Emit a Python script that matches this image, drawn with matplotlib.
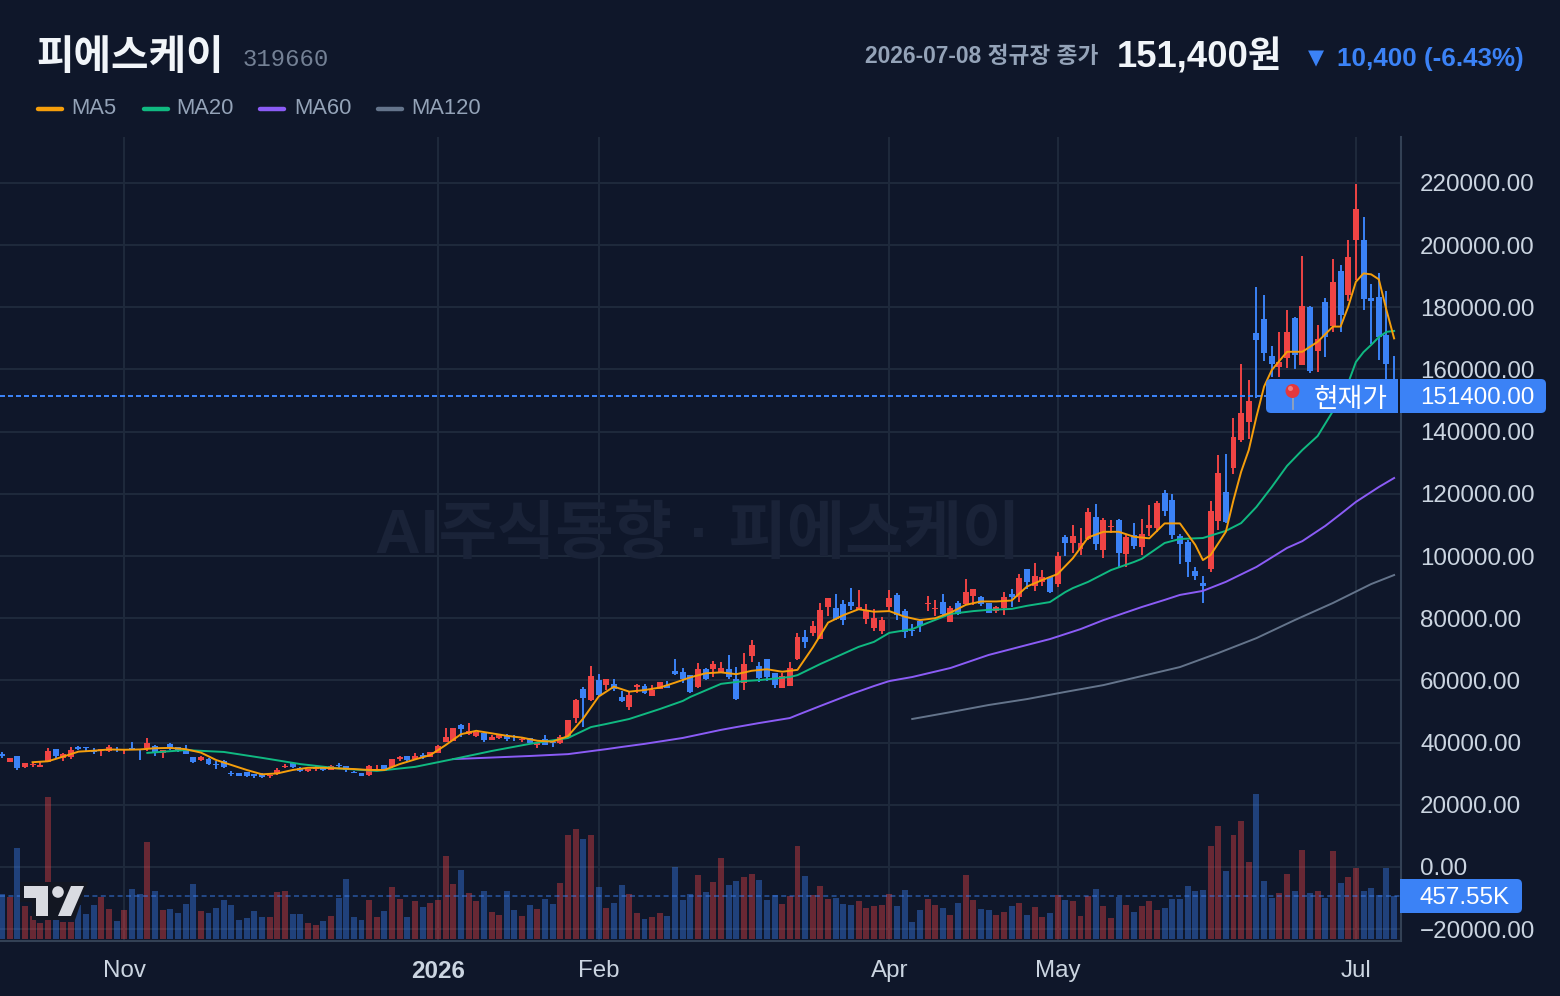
import matplotlib
matplotlib.use('Agg')
import numpy as np
import matplotlib.pyplot as plt
from matplotlib.patches import FancyBboxPatch, Polygon, Circle, Rectangle

plt.rcParams['font.family'] = ['Liberation Sans', 'Noto Sans CJK KR', 'DejaVu Sans']

# daily candles, won
opens = [36200,33900,35700,32300,32700,32300,33900,37800,35100,35300,
38500,38500,37600,37600,37400,38100,37600,38300,37100,38300,
38800,36600,39600,38500,37900,35400,34400,34600,33100,34200,
30200,30200,30700,29900,29900,29300,29900,32300,33600,31800,
31000,31500,32200,31300,32800,32500,30600,30200,29600,31200,
32800,32100,34700,35700,34600,36000,35300,36600,40300,40500,
45800,42700,42100,43000,41000,41600,42100,42100,40800,41500,
39200,41200,40200,40000,41900,47900,57200,53700,60100,58500,
58900,54700,51500,58000,58200,55100,57400,58500,63000,62700,
61700,57900,63700,63700,62600,63700,60500,59100,67900,64600,
66900,62400,57600,58300,66800,73900,75100,73300,83600,83300,
84600,85200,82700,79800,76900,75900,83600,87500,82300,76200,
79100,84700,83000,85200,78800,84900,84600,87200,86800,84900,
82300,83300,87800,86800,95800,90400,91700,93300,91000,106100,
104200,102300,105500,112600,101900,109300,111600,100700,106800,102900,
109000,109000,120300,118000,106400,104500,95200,91300,95800,111300,
120600,128300,137300,143100,171700,176200,164300,160800,163700,176600,
161400,180100,165900,181700,174000,191700,184000,201600,201600,183000,
183300,171100,155000]
highs = [37000,35100,35700,33400,33700,34000,38300,37800,36700,38500,
38900,38500,38200,38100,39200,38600,37900,40200,37800,41500,
39200,37700,39900,38700,39200,35400,35700,35100,34000,34400,
30900,30200,30700,29900,30200,29600,31800,33100,33800,32200,
31600,32500,32200,32800,33400,32500,31000,30200,32800,32800,
32800,34700,35800,35700,36700,36600,37100,39100,44600,44600,
46000,46200,43400,43000,42500,42700,42800,42500,41700,41500,
40300,42500,40200,42300,47300,53900,57800,64600,62100,60500,
60500,56600,56600,58900,58900,58500,59500,59800,66900,64000,
61700,65600,64000,66200,65900,68200,64300,68800,73000,65900,
66900,62400,62300,65900,75100,76200,79100,84900,86500,87800,
85900,89700,89100,84600,83000,80400,89100,88100,83000,78100,
79800,87200,85900,87800,83900,85500,92600,89400,87200,84900,
83900,88400,89400,94200,95800,97800,95500,93300,101300,106800,
110000,109000,115500,116700,112200,111600,111900,106800,110600,111900,
116400,117700,121200,120000,107100,105200,96500,93600,117700,132500,
132800,144400,161800,156600,186500,184000,167600,172100,179100,176900,
196500,180400,174300,183000,195500,193600,201600,219700,209000,187500,
191000,185200,164300]
lows = [35100,33900,31300,31800,32200,32200,33700,35100,34200,34700,
37600,37300,36300,35700,37000,37000,36300,37700,34400,37300,
35700,35100,37600,37000,36300,33300,34000,32800,31500,31800,
29300,29300,28900,28600,28600,28600,29600,31700,31800,30600,
30600,30900,30900,31300,31800,30600,30100,29300,29300,30900,
30900,31700,34100,34100,34400,34800,35300,36600,40300,40500,
41700,42300,41900,40300,41000,41300,40400,40600,40300,39800,
38300,39300,38700,39700,41900,46400,45100,53400,54800,56900,
56700,53100,50500,56000,55600,55000,57400,57700,61700,59200,
56000,57600,60100,61100,62300,60500,53700,56900,65900,59500,
59800,57600,57600,58300,66600,70400,74300,73300,80700,79400,
77800,82700,82700,78100,75900,74900,82300,79400,73600,74300,
75600,82300,80700,80700,78800,81000,84300,84300,83900,81700,
81700,81000,83600,85200,89400,88800,90400,88100,90200,100000,
101000,100300,105200,101900,99400,107400,96500,96500,102300,100300,
106400,107700,112900,105500,97400,93300,92300,84900,94900,108400,
110600,126400,136700,137600,150800,162700,157700,157600,160500,160200,
161400,158900,159200,164000,172100,172100,182000,188800,179100,168200,
163100,156600,149000]
closes = [35800,35100,31800,33400,33100,32700,37200,35700,36200,37600,
38100,38200,36900,38100,38600,37600,37900,37900,36900,39900,
36600,37700,38400,37300,36300,33800,35400,33100,32800,32200,
29900,29300,29300,29300,28900,29600,31200,32600,32200,31000,
31600,31800,31200,32500,32500,31200,30100,29300,32500,31500,
30900,34700,35300,34500,35700,35300,36900,38900,41700,44600,
44500,43700,43400,40800,41800,42700,41100,41700,41300,39800,
39800,39300,39800,41700,47300,53700,54400,61400,55300,60500,
57400,53400,55300,58500,56000,56900,59500,57700,62100,60400,
56300,63700,60500,65300,64000,61100,54000,65300,71400,60800,
61100,58500,61400,64000,73900,72400,77500,82700,86500,79800,
79400,83900,83600,82300,80100,79400,86500,81000,75600,75900,
77500,85000,83300,81400,83300,81400,88400,89400,84600,81700,
83600,86800,86800,92900,91700,93600,93300,88400,100000,104200,
106400,104200,114200,103900,111600,109800,101000,106100,103200,107100,
110000,117100,114500,106800,103900,98100,93600,90400,114500,126700,
111000,138300,146000,149900,169500,165300,161800,162400,172100,164700,
180400,159500,169800,170400,188100,177500,196200,211600,182700,182100,
170400,161800,151400]

# traded volume, thousands of shares
volumes = [475,444,961,348,243,165,1500,211,176,176,
359,264,359,444,317,190,306,528,475,1024,
507,306,317,275,370,581,296,275,327,412,
359,201,222,296,232,232,496,507,264,264,
169,148,190,243,433,634,232,201,412,232,
296,549,422,232,401,341,383,415,883,585,
734,489,404,511,287,255,511,309,245,362,
319,426,372,596,1107,1171,1064,1107,553,330,
383,575,479,277,213,234,277,245,766,415,
479,681,500,607,862,575,617,660,692,628,
415,468,372,458,990,670,468,564,426,436,
372,362,404,330,351,362,479,351,521,181,
309,426,362,330,255,383,681,415,319,309,
255,287,351,383,255,341,234,277,468,415,
404,245,458,532,351,223,447,362,287,351,
404,309,330,426,426,564,511,521,990,1202,
724,1107,1256,819,1532,617,436,489,692,511,
947,489,511,436,936,596,660,756,511,543,
468,756,458]
volume_avg = 457.55
last_price = 151400

# moving averages, read at the listed trading days
ma5_days = [*range(4, 158, 2), 157, 158, 160, 161, 162, 163, 164, 165, 166, 168,
            170, 172, 174, 175, 176, 177, 178, 179, 180, 181, 182]
ma5 = [33700,34000,35500,37100,37400,37800,37700,37800,38200,38300,37900,36800,
34400,32800,31200,29800,30100,31200,31900,31900,31700,31500,31200,31200,33100,34600,
36000,39200,42700,43800,43000,42200,41600,40600,40300,42100,47800,54800,58000,56400,
56900,57700,59300,61000,62300,62600,62000,63100,63600,62800,63400,70600,78600,81000,
82900,82100,82300,80500,79400,80000,81800,84300,85400,85400,85700,90200,92300,94200,
99300,106000,107800,107800,106200,105700,110500,110500,103600,98700,100300,107800,
118000,127100,134100,144800,154500,159800,165700,165700,168900,173800,173800,180200,
188200,190900,190600,189000,179100,170000]

ma20_days = [19,24,29,34,39,44,49,54,59,64,69,74,77,79,82,84,86,89,90,94,97,99,103,104,
             107,109,112,114,116,119,121,124,127,129,132,134,137,139,140,142,145,148,149,
             152,154,157,160,162,164,166,168,170,172,174,175,176,177,178,179,180,181,182]
ma20 = [36700,37600,37000,35100,33100,31700,30900,32200,34700,37300,39600,41500,45000,46000,
47600,49200,50800,53400,54700,58900,59800,60100,61100,61700,65300,67500,70800,72400,75300,
76500,78500,81400,82300,82700,83000,84000,85200,88400,89700,91700,95500,98100,99100,104200,
105500,105800,108100,110600,115800,122200,129000,134100,138600,146600,151800,155700,162400,
165600,167900,170400,172100,172400]

ma60_days = [59,64,69,74,79,81,84,89,94,96,99,103,104,107,109,111,114,116,119,124,129,134,
             137,139,141,144,149,152,154,157,160,164,168,170,173,175,177,180,182]
ma60 = [34700,35200,35700,36300,37900,38600,39600,41500,44100,45000,46300,47900,48900,51800,
53700,55600,58200,59800,61100,64000,68200,71400,73300,74900,76500,79400,83600,85900,87500,
88800,91700,96500,102600,104800,109700,113500,117400,122200,125100]

ma120_days = [*range(119, 180, 5), 182]
ma120 = [47600,49800,52100,54000,56300,58500,61400,64300,68800,73600,79400,84900,91000,93900]

price_ticks = [-20000, 0, 20000, 40000, 60000, 80000, 100000, 120000, 140000,
               160000, 180000, 200000, 220000]
month_days = [16, 57, 78, 116, 138, 177]
month_labels = ['Nov', '2026', 'Feb', 'Apr', 'May', 'Jul']

BG = '#0F172A'
GRID = '#1E293B'
BORDER = '#334155'
UP = '#EF4444'
DOWN = '#3B82F6'
W, H = 1560, 996

opens, highs, lows, closes, volumes = map(np.array, (opens, highs, lows, closes, volumes))
days = np.arange(len(closes))
up = closes >= opens
colors = np.where(up, UP, DOWN)

fig = plt.figure(figsize=(W / 100, H / 100), dpi=100, facecolor=BG)
pane = [0, 1 - 941 / H, 1401 / W, (941 - 137) / H]

# volume pane sits behind the candles and also carries the grid
axv = fig.add_axes(pane, facecolor=BG, zorder=1)
ax = fig.add_axes(pane, zorder=2, sharex=axv)
ax.patch.set_visible(False)

ax.set_xlim(-0.26, 182.9)
ax.set_ylim(-23800, 234770)
axv.set_ylim(-21, 8500)

for p in price_ticks:
    axv.plot([0, 1], [p, p], color=GRID, lw=1.5, transform=ax.get_yaxis_transform(), zorder=1)
for d in month_days:
    axv.axvline(d, color=GRID, lw=1.5, zorder=1)

axv.text(698 / W, 1 - 536 / H, 'AI주식동향 · 피에스케이', transform=fig.transFigure,
         ha='center', va='center', fontsize=45.7, fontweight='bold', color='#1A2338', zorder=1,
         family=['Liberation Sans', 'Noto Sans CJK KR'])

axv.bar(days, volumes, width=0.78, color=colors, alpha=0.4, linewidth=0, zorder=2)
axv.axhline(volume_avg, color=DOWN, alpha=0.45, lw=1.44, dashes=(2.5, 1.7), zorder=3)
axv.set_yticks([])
axv.tick_params(axis='x', length=0, labelbottom=False)
for s in axv.spines.values():
    s.set_visible(False)

# candles
ax.vlines(days, lows, highs, color=colors, lw=1.4, zorder=3)
ax.bar(days, np.abs(closes - opens), bottom=np.minimum(opens, closes), width=0.78,
       color=colors, linewidth=0, zorder=4)

ax.plot(ma120_days, ma120, color='#64748B', lw=1.4, zorder=5)
ax.plot(ma60_days, ma60, color='#8B5CF6', lw=1.4, zorder=6)
ax.plot(ma20_days, ma20, color='#10B981', lw=1.4, zorder=7)
ax.plot(ma5_days, ma5, color='#F59E0B', lw=1.4, zorder=8)

ax.axhline(last_price, color=DOWN, lw=1.44, dashes=(2.5, 1.5), zorder=5)

ax.yaxis.tick_right()
ax.set_yticks(price_ticks)
ax.set_yticklabels([f'{p:.2f}'.replace('-', '\u2212') for p in price_ticks])
ax.tick_params(axis='y', length=0, pad=13.7, labelsize=17.35, labelcolor='#CBD5E1')
ax.set_xticks(month_days)
ax.set_xticklabels(month_labels)
ax.tick_params(axis='x', length=0, pad=14, labelsize=17.35, labelcolor='#CBD5E1')
ax.get_xticklabels()[1].set_fontweight('bold')
for s in ['top', 'left']:
    ax.spines[s].set_visible(False)
for s in ['right', 'bottom']:
    ax.spines[s].set_color(BORDER)
    ax.spines[s].set_linewidth(1.5)

# header, labels and logo are laid out on a pixel canvas over the chart
top = fig.add_axes([0, 0, 1, 1], zorder=10)
top.set_xlim(0, W)
top.set_ylim(H, 0)
top.axis('off')

top.text(36, 57, '피에스케이', fontsize=29.4, fontweight='bold', color='#F1F5F9', va='center',
         family=['Noto Sans CJK KR'])
top.text(243, 59, '319660', fontsize=17.2, color='#748195', va='center', family=['Liberation Mono'])
top.text(1098, 56, '2026-07-08 정규장 종가', fontsize=16.35, fontweight='bold', color='#94A3B8',
         ha='right', va='center')
top.text(1282, 57, '151,400원', fontsize=26.3, fontweight='bold', color='#F1F5F9', ha='right', va='center')
top.text(1524, 59, '10,400 (-6.43%)', fontsize=18.7, fontweight='bold', color=DOWN, ha='right', va='center')
top.text(1308, 58, '▼', fontsize=15, color=DOWN, va='center', family=['DejaVu Sans'])

legend_items = [('MA5', '#F59E0B', 36, 71), ('MA20', '#10B981', 142, 176),
                ('MA60', '#8B5CF6', 258, 294), ('MA120', '#64748B', 376, 411)]
for name, col, x0, xt in legend_items:
    top.plot([x0 + 2, x0 + 26], [108.5, 108.5], color=col, lw=3.2, solid_capstyle='round')
    top.text(xt, 108, name, fontsize=15.8, color='#94A3B8', va='center')


def tag(x0, x1, y0, y1):
    # rounded rectangle used for the value labels at the price scale
    return FancyBboxPatch((x0, y0), x1 - x0, y1 - y0, boxstyle='round,pad=0,rounding_size=5',
                          facecolor=DOWN, edgecolor='none', zorder=1)


top.add_patch(tag(1266, 1398, 379, 413))
top.add_patch(Rectangle((1388, 379), 10, 34, facecolor=DOWN, edgecolor='none', zorder=1))
top.add_patch(tag(1400, 1546, 379, 413))
top.add_patch(Rectangle((1400, 379), 10, 34, facecolor=DOWN, edgecolor='none', zorder=1))
top.add_patch(tag(1400, 1522, 879, 913))
top.add_patch(Rectangle((1400, 879), 10, 34, facecolor=DOWN, edgecolor='none', zorder=1))

top.plot([1292.5, 1292.5], [392, 409], color='#94A3B8', lw=1.3, zorder=2)
top.add_patch(Circle((1292.5, 391), 7, facecolor='#E5383B', edgecolor='none', zorder=3))
top.add_patch(Circle((1290.5, 388.5), 2.5, facecolor='#F47C7C', edgecolor='none', zorder=4))
top.text(1350.5, 399, '현재가', fontsize=19.3, color='white', ha='center', va='center', zorder=5,
         family=['Noto Sans CJK KR'])
top.text(1420, 398, '151400.00', fontsize=17.35, color='white', va='center', zorder=5)
top.text(1420, 898, '457.55K', fontsize=17.35, color='white', va='center', zorder=5)

# chart library logo, bottom left
top.add_patch(Polygon([(20, 882), (88, 882), (75, 920), (32, 920), (32, 902), (20, 902)],
                      facecolor='#131722', edgecolor='none', zorder=2))
top.add_patch(Polygon([(24, 886), (48, 886), (48, 916), (36, 916), (36, 898), (24, 898)],
                      facecolor='#D9DBE1', edgecolor='none', zorder=3))
top.add_patch(Circle((58, 892), 5.8, facecolor='#D9DBE1', edgecolor='none', zorder=3))
top.add_patch(Polygon([(71, 886), (84, 886), (71, 916), (58, 916)],
                      facecolor='#D9DBE1', edgecolor='none', zorder=3))

fig.savefig('out.png', dpi=100, facecolor=BG)
